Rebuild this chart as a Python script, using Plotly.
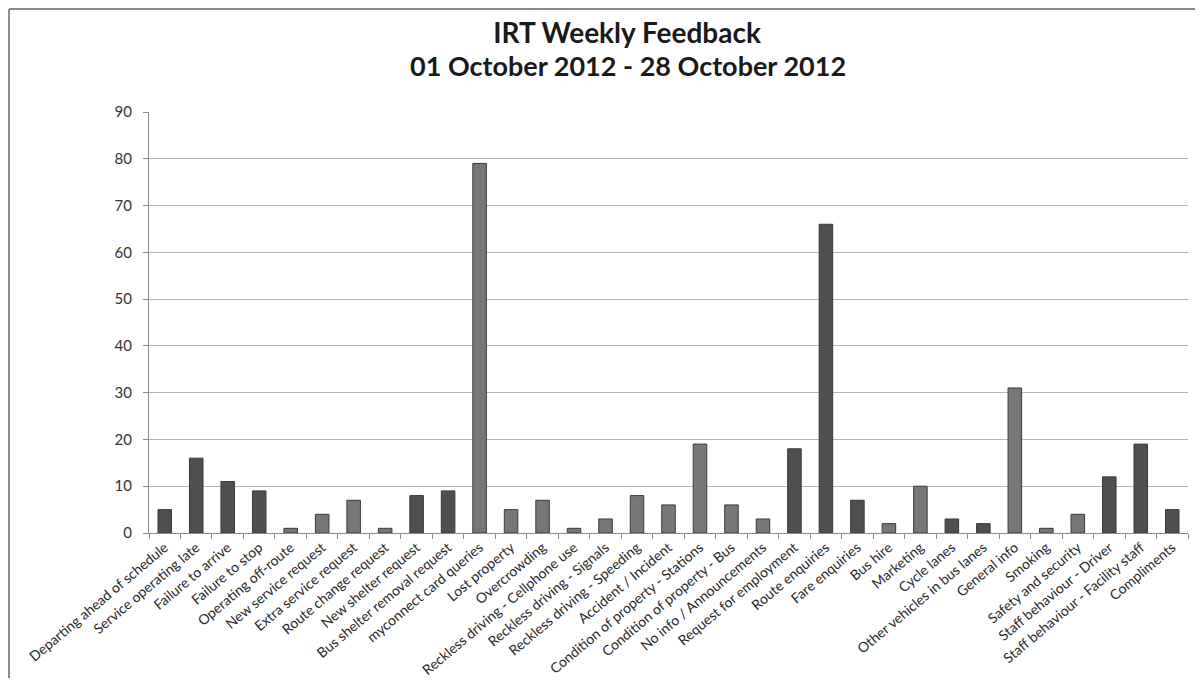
import plotly.graph_objects as go

# Feedback categories and counts
categories = [
    "Departing ahead of schedule", "Service operating late", "Failure to arrive",
    "Failure to stop", "Operating off-route", "New service request",
    "Extra service request", "Route change request", "New shelter request",
    "Bus shelter removal request", "myconnect card queries", "Lost property",
    "Overcrowding", "Reckless driving - Cellphone use", "Reckless driving - Signals",
    "Reckless driving - Speeding", "Accident / Incident", "Condition of property - Stations",
    "Condition of property - Bus", "No info / Announcements", "Request for employment",
    "Route enquiries", "Fare enquiries", "Bus hire", "Marketing", "Cycle lanes",
    "Other vehicles in bus lanes", "General info", "Smoking", "Safety and security",
    "Staff behaviour - Driver", "Staff behaviour - Facility staff", "Compliments",
]
counts = [5, 16, 11, 9, 1, 4, 7, 1, 8, 9, 79, 5, 7, 1, 3, 8, 6, 19, 6, 3, 18,
          66, 7, 2, 10, 3, 2, 31, 1, 4, 12, 19, 5]
# shade of each bar: 'd' dark, 'l' light
shades = ["d", "d", "d", "d", "l", "l", "l", "l", "d", "d", "l", "l", "l", "l",
          "l", "l", "l", "l", "l", "l", "d", "d", "d", "l", "l", "d", "d", "l",
          "l", "l", "d", "d", "d"]

title_line1 = "IRT Weekly Feedback"
title_line2 = "01 October 2012 - 28 October 2012"

shade_colors = {"d": "#4f4f4f", "l": "#777777"}
bar_colors = [shade_colors[s] for s in shades]

fig = go.Figure(go.Bar(
    x=categories,
    y=counts,
    marker=dict(color=bar_colors, line=dict(color="#3a3a3a", width=1)),
))

# page has an 8px body margin -> keep the figure inside the window
fig.update_layout(
    width=1187, height=670,
    margin=dict(l=141, r=7, t=104, b=145),
    paper_bgcolor="white", plot_bgcolor="white",
    showlegend=False,
    bargap=0.57,
    font=dict(family="Lato", color="#333333"),
    title=dict(
        text="<b>" + title_line1 + "</b>",
        x=0.5215, xanchor="center", y=0.9627, yanchor="middle",
        font=dict(family="Lato", size=28, color="#1a1a1a"),
    ),
    xaxis=dict(
        tickangle=-40, tickfont=dict(size=14, color="#2a2a2a"),
        showline=True, linecolor="#8c8c8c", linewidth=1,
        ticks="outside", ticklen=5, tickcolor="#8c8c8c", tickson="boundaries",
        showgrid=False, automargin=False,
    ),
    yaxis=dict(
        range=[0, 90], dtick=10,
        tickfont=dict(size=15, color="#333333"), ticklabelstandoff=8,
        showline=True, linecolor="#8c8c8c", linewidth=1,
        ticks="outside", ticklen=5, tickcolor="#8c8c8c",
        showgrid=True, gridcolor="#b5b5b5", gridwidth=1,
        zeroline=False, automargin=False,
    ),
)

# second title line
fig.add_annotation(
    text="<b>" + title_line2 + "</b>",
    xref="paper", yref="paper", x=0.461, y=1.1116,
    xanchor="center", yanchor="middle", showarrow=False,
    font=dict(family="Lato", size=27, color="#1a1a1a"),
)

# outer frame of the picture (top and left edges)
fig.add_shape(type="line", xref="paper", yref="paper",
              x0=-0.1347, x1=1.01, y0=1.2446, y1=1.2446,
              line=dict(color="#8a8a8a", width=2))
fig.add_shape(type="line", xref="paper", yref="paper",
              x0=-0.1347, x1=-0.1347, y0=1.2446, y1=-0.345,
              line=dict(color="#8a8a8a", width=2))

fig.write_html("out.html")
